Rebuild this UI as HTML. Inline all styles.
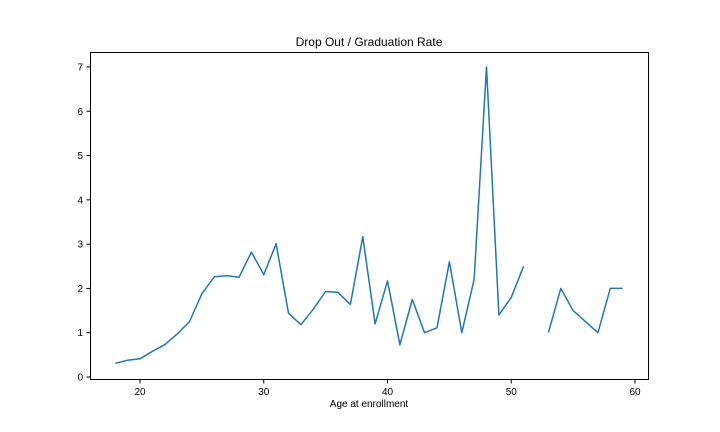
<!DOCTYPE html>
<html><head><meta charset="utf-8"><style>body{margin:0;background:#fff}svg{display:block;font-family:"Liberation Sans","DejaVu Sans",sans-serif}</style></head>
<body>
<svg id="chart" width="720" height="432">
<rect x="0" y="0" width="720" height="432" fill="#fff"/>
<text x="369" y="46" text-anchor="middle" font-size="12">Drop Out / Graduation Rate</text>
<g id="ticks"></g>
<path id="line" fill="none" stroke="#1f77b4" stroke-width="1.5" stroke-linejoin="round"/>
<rect x="90.5" y="52.5" width="558" height="327" fill="none" stroke="#000" stroke-width="1"/>
<text x="369" y="407" text-anchor="middle" font-size="10">Age at enrollment</text>
</svg>
<script>
const ages=[18,19,20,21,22,23,24,25,26,27,28,29,30,31,32,33,34,35,36,37,38,39,40,41,42,43,44,45,46,47,48,49,50,51,52,53,54,55,56,57,58,59];
const rates=[0.31,0.38,0.41,0.58,0.73,0.97,1.25,1.88,2.26,2.29,2.25,2.82,2.31,3.01,1.44,1.18,1.53,1.93,1.91,1.64,3.17,1.2,2.17,0.73,1.75,1.0,1.11,2.6,1.0,2.2,7.0,1.4,1.8,2.5,null,1.0,2.0,1.5,1.25,1.0,2.0,2.0];
const xTicks=[20,30,40,50,60];
const yTicks=[0,1,2,3,4,5,6,7];
const NS="http://www.w3.org/2000/svg";
const X=v=>140+(v-20)*12.375;
const Y=v=>377-v*44.29;
let d="",pen=false;
ages.forEach((a,i)=>{const r=rates[i];if(r===null){pen=false;return;}d+=(pen?"L":"M")+X(a).toFixed(1)+","+Y(r).toFixed(1);pen=true;});
document.getElementById('line').setAttribute('d',d);
const g=document.getElementById('ticks');
function mk(t,at){const e=document.createElementNS(NS,t);for(const k in at)e.setAttribute(k,at[k]);g.appendChild(e);return e;}
xTicks.forEach(v=>{const x=X(v);
const l=mk('line',{x1:x,x2:x,y1:380,y2:383.5,stroke:'#000'});


const t=mk('text',{x:x,y:395,'text-anchor':'middle','font-size':10});t.textContent=v;

});
yTicks.forEach(v=>{const y=Y(v);
const l=mk('line',{x1:86.5,x2:90,y1:y,y2:y,stroke:'#000'});


const t=mk('text',{x:83,y:y+3.5,'text-anchor':'end','font-size':10});t.textContent=v;

});
</script>
</body></html>
